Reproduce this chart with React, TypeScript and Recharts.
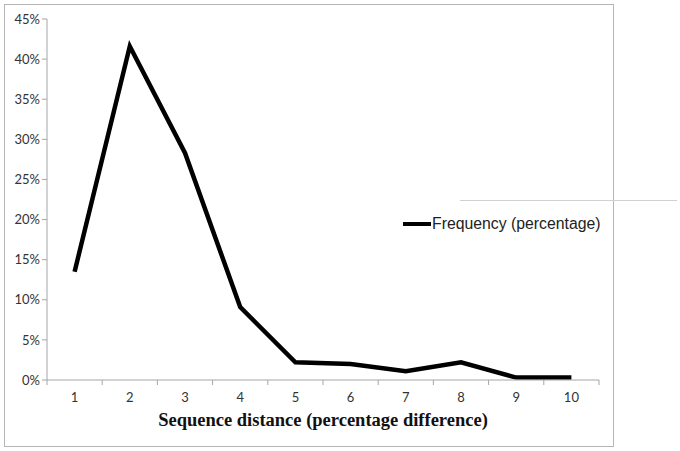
import { LineChart, Line, XAxis, YAxis } from 'recharts';

const distances = [1, 2, 3, 4, 5, 6, 7, 8, 9, 10];
const frequency = [13.5, 41.6, 28.3, 9.1, 2.2, 2.0, 1.1, 2.2, 0.3, 0.3];
const yTicks = [0, 5, 10, 15, 20, 25, 30, 35, 40, 45];
const xTicks = [0.5, 1, 1.5, 2, 2.5, 3, 3.5, 4, 4.5, 5, 5.5, 6, 6.5, 7, 7.5, 8, 8.5, 9, 9.5, 10, 10.5];

const data = distances.map((d, i) => ({ d, freq: frequency[i] }));

const axisColor = '#a6a6a6';
const tickFont = 'Lato, "Open Sans", sans-serif';

function XTick({ x, y, payload }: any) {
  const v = payload.value;
  if (Number.isInteger(v)) {
    return (
      <text x={x} y={y + 14} textAnchor="middle" fontSize={13} fontFamily={tickFont} fill="#333">
        {v}
      </text>
    );
  }
  return <line x1={x} x2={x} y1={y - 8} y2={y - 3} stroke={axisColor} />;
}

export default function App() {
  return (
    <div style={{ position: 'absolute', left: 0, top: 0, width: 680, height: 451, background: '#fff' }}>
      <div style={{ position: 'absolute', left: 4, top: 4, width: 608, height: 441, border: '1.5px solid #b5b5b5' }} />
      <div style={{ position: 'absolute', left: 460, top: 200, width: 217, height: 1, background: '#d0d0d0' }} />
      <LineChart width={680} height={451} data={data} margin={{ top: 19, right: 81, left: 7, bottom: 41 }}>
        <XAxis
          dataKey="d"
          type="number"
          domain={[0.5, 10.5]}
          ticks={xTicks}
          interval={0}
          height={30}
          stroke={axisColor}
          tickLine={false}
          tick={<XTick />}
        />
        <YAxis
          type="number"
          domain={[0, 45]}
          ticks={yTicks}
          width={40}
          stroke={axisColor}
          tickSize={5}
          tickFormatter={(v) => `${v}%`}
          tick={{ fontSize: 13, fontFamily: tickFont, fill: '#333' }}
        />
        <Line
          type="linear"
          dataKey="freq"
          name="Frequency (percentage)"
          stroke="#000"
          strokeWidth={4.5}
          dot={false}
          isAnimationActive={false}
        />
      </LineChart>
      <div
        style={{
          position: 'absolute',
          left: 403,
          top: 215,
          display: 'flex',
          alignItems: 'center',
          fontFamily: 'Arial, "Liberation Sans", sans-serif',
          fontSize: 15.8,
          color: '#222',
        }}
      >
        <span style={{ display: 'inline-block', width: 28, height: 4, background: '#000', marginRight: 1 }} />
        Frequency (percentage)
      </div>
      <div
        style={{
          position: 'absolute',
          left: 0,
          width: 646,
          top: 410,
          textAlign: 'center',
          fontFamily: '"Liberation Serif", "Times New Roman", serif',
          fontWeight: 'bold',
          fontSize: 18.5,
          color: '#111',
        }}
      >
        Sequence distance (percentage difference)
      </div>
    </div>
  );
}
